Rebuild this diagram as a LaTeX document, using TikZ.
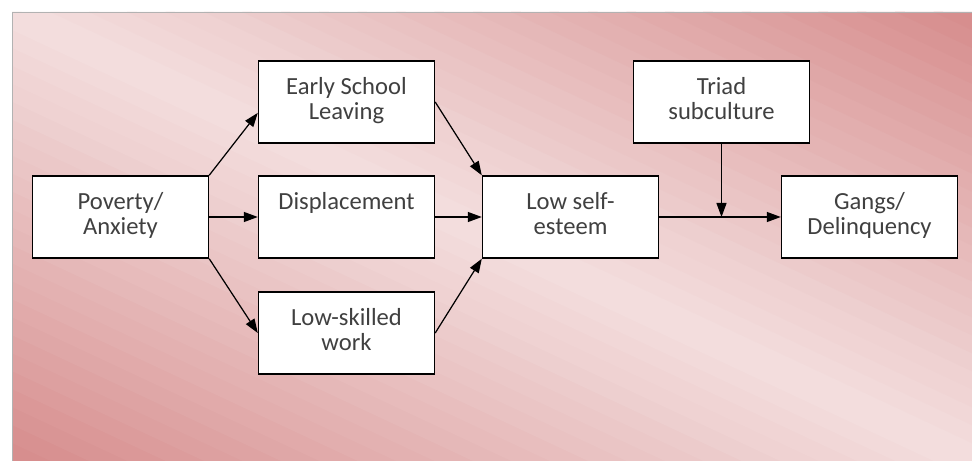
\documentclass[tikz,border=0pt]{standalone}
\usepackage{fontspec}
\setmainfont{Carlito}
\usetikzlibrary{arrows.meta}

\definecolor{rosedark}{RGB}{214,140,140}
\definecolor{roselight}{RGB}{243,222,222}
\definecolor{textgray}{RGB}{64,64,64}

\newcommand{\boxtext}[1]{\parbox[c][1cm][t]{3.3cm}{\centering #1}}

\tikzset{
  box/.style={draw=black, line width=0.8pt, fill=white, minimum width=3.52cm,
    minimum height=1.64cm, inner sep=0pt, text=textgray,
    font=\fontsize{14}{14.5}\selectfont},
  link/.style={line width=0.7pt, -{Triangle[length=0.28cm,width=0.2cm]}}
}

\begin{document}
\begin{tikzpicture}
    \useasboundingbox (0,0) rectangle (19.44,-9.22);

    % Background: bands across the diagonal
    \begin{scope}[shift={(0.24,-0.24)}, x=19.2cm, y=-8.98cm]
      \clip (0,0) rectangle (1,1);
      \foreach \i in {-25,...,24} {
        \pgfmathsetmacro\c{\i/25}
        \pgfmathsetmacro\p{100*(abs(\i+0.5)/25)^1.1}
        \fill[rosedark!\p!roselight] (\c,0) -- (\c+0.05,0) -- (1.05+\c,1) -- (1+\c,1) -- cycle;
      }
    \end{scope}
    \draw[gray!60, line width=0.4pt] (0.24,-9.22) -- (0.24,-0.24) -- (19.44,-0.24);

    % Boxes
    \node[box] (poverty) at (2.41,-4.34) {\boxtext{Poverty/\\Anxiety}};
    \node[box] (school) at (6.93,-2.04) {\boxtext{Early School\\Leaving}};
    \node[box] (displace) at (6.93,-4.34) {\boxtext{Displacement}};
    \node[box] (lowwork) at (6.93,-6.66) {\boxtext{Low-skilled\\work}};
    \node[box] (esteem) at (11.41,-4.34) {\boxtext{Low self-\\esteem}};
    \node[box] (triad) at (14.43,-2.04) {\boxtext{Triad\\subculture}};
    \node[box] (gangs) at (17.39,-4.34) {\boxtext{Gangs/\\Delinquency}};

    % Arrows
    \draw[link] (poverty.north east) -- (school.187);
    \draw[link] (poverty.east) -- (displace.west);
    \draw[link] (poverty.south east) -- (lowwork.west);
    \draw[link] (school.east) -- (esteem.north west);
    \draw[link] (displace.east) -- (esteem.west);
    \draw[link] (lowwork.east) -- (esteem.south west);
    \draw[link] (esteem.east) -- (gangs.west);
    \coordinate (meet) at (triad.south |- esteem.east);
    \draw[link] (triad.south) -- (meet);
\end{tikzpicture}
\end{document}
